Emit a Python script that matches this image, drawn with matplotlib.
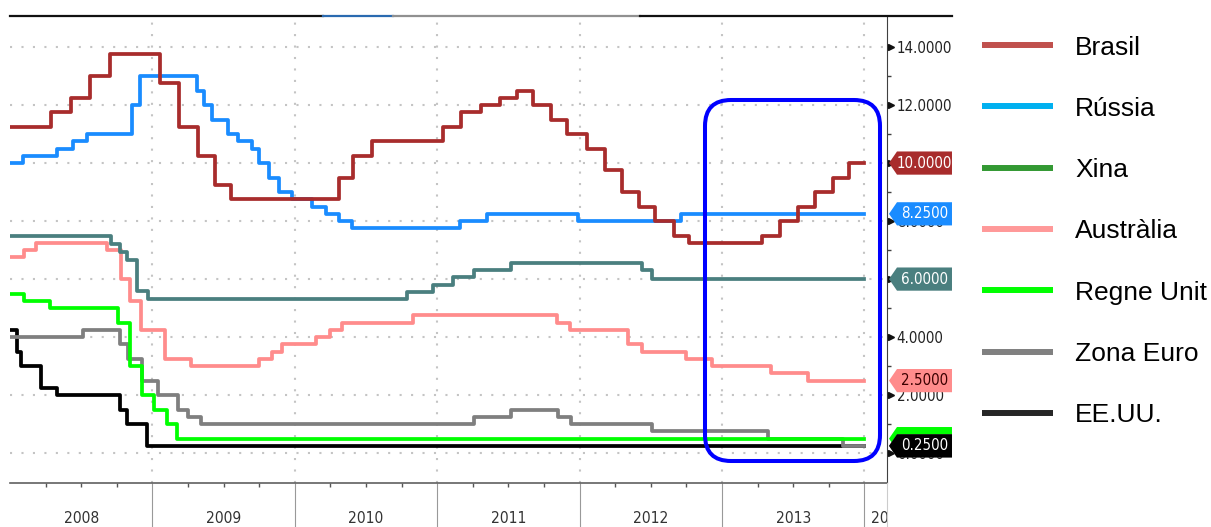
import matplotlib
matplotlib.use('Agg')
import matplotlib.pyplot as plt
from matplotlib import font_manager as fm
from matplotlib.lines import Line2D
from matplotlib.patches import Polygon, FancyBboxPatch
from matplotlib.transforms import IdentityTransform

# policy rates, stepwise: date of each change (decimal year) and the new rate (%)
names = ['Brasil', 'Rússia', 'Xina', 'Austràlia', 'Regne Unit', 'Zona Euro', 'EE.UU.']

brasil_t = [2008.0, 2008.29, 2008.43, 2008.56, 2008.70, 2009.05, 2009.19, 2009.32, 2009.44,
            2009.55, 2010.31, 2010.41, 2010.54, 2011.04, 2011.17, 2011.31, 2011.44, 2011.56,
            2011.67, 2011.80, 2011.91, 2012.05, 2012.18, 2012.30, 2012.42, 2012.53, 2012.66,
            2012.77, 2013.28, 2013.41, 2013.53, 2013.65, 2013.78, 2013.89]
brasil_v = [11.25, 11.75, 12.25, 13.0, 13.75, 12.75, 11.25, 10.25, 9.25,
            8.75, 9.5, 10.25, 10.75, 11.25, 11.75, 12.0, 12.25, 12.5,
            12.0, 11.5, 11.0, 10.5, 9.75, 9.0, 8.5, 8.0, 7.5,
            7.25, 7.5, 8.0, 8.5, 9.0, 9.5, 10.0]

russia_t = [2008.0, 2008.09, 2008.33, 2008.44, 2008.54, 2008.86, 2008.91, 2009.31, 2009.36,
            2009.42, 2009.53, 2009.60, 2009.70, 2009.75, 2009.82, 2009.89, 2009.98, 2010.12,
            2010.22, 2010.31, 2010.40, 2011.16, 2011.35, 2011.99, 2012.71]
russia_v = [10.0, 10.25, 10.5, 10.75, 11.0, 12.0, 13.0, 12.5, 12.0,
            11.5, 11.0, 10.75, 10.5, 10.0, 9.5, 9.0, 8.75, 8.5,
            8.25, 8.0, 7.75, 8.0, 8.25, 8.0, 8.25]

xina_t = [2008.0, 2008.71, 2008.77, 2008.82, 2008.89, 2008.97, 2010.79, 2010.97, 2011.11,
          2011.26, 2011.52, 2012.44, 2012.51]
xina_v = [7.47, 7.2, 6.93, 6.66, 5.58, 5.31, 5.56, 5.81, 6.06, 6.31, 6.56, 6.31, 6.0]

australia_t = [2008.0, 2008.10, 2008.18, 2008.68, 2008.78, 2008.84, 2008.92, 2009.09, 2009.27,
               2009.75, 2009.84, 2009.91, 2010.15, 2010.25, 2010.33, 2010.83, 2011.84, 2011.93,
               2012.34, 2012.44, 2012.75, 2012.93, 2013.34, 2013.60]
australia_v = [6.75, 7.0, 7.25, 7.0, 6.0, 5.25, 4.25, 3.25, 3.0,
               3.25, 3.5, 3.75, 4.0, 4.25, 4.5, 4.75, 4.5, 4.25,
               3.75, 3.5, 3.25, 3.0, 2.75, 2.5]

uk_t = [2008.0, 2008.10, 2008.28, 2008.76, 2008.84, 2008.93, 2009.01, 2009.10, 2009.17]
uk_v = [5.5, 5.25, 5.0, 4.5, 3.0, 2.0, 1.5, 1.0, 0.5]

euro_t = [2008.0, 2008.51, 2008.77, 2008.83, 2008.93, 2009.04, 2009.18, 2009.25, 2009.34,
          2011.26, 2011.52, 2011.85, 2011.94, 2012.51, 2013.32, 2013.85]
euro_v = [4.0, 4.25, 3.75, 3.25, 2.5, 2.0, 1.5, 1.25, 1.0,
          1.25, 1.5, 1.25, 1.0, 0.75, 0.5, 0.25]

us_t = [2008.0, 2008.05, 2008.08, 2008.22, 2008.33, 2008.77, 2008.82, 2008.96]
us_v = [4.25, 3.5, 3.0, 2.25, 2.0, 1.5, 1.0, 0.25]

END = 2014.0
years = [2008, 2009, 2010, 2011, 2012, 2013]
# axis labels fully covered by the value tags in the original
hidden_ticks = [6, 10]

line_colors = ['#a82c2c', '#1a8cff', '#4a7f7f', '#ff8c8c', '#00ff00', '#7f7f7f', '#000000']
tag_text_colors = ['white', 'white', 'white', '#3a0000', '#003300', 'white', 'white']
legend_colors = ['#c0504d', '#00b0f0', '#339933', '#ff9999', '#00ff00', '#808080', '#262626']

times = [brasil_t, russia_t, xina_t, australia_t, uk_t, euro_t, us_t]
values = [brasil_v, russia_v, xina_v, australia_v, uk_v, euro_v, us_v]

# narrow face for the terminal-style labels: a condensed file if one is installed,
# otherwise Liberation Sans (narrower digits than DejaVu)
narrow_file = None
for f in fm.fontManager.ttflist:
    fn = f.fname.lower()
    if ('condensed' in fn or 'narrow' in fn) and 'bold' not in fn and 'italic' not in fn \
            and 'oblique' not in fn and f.weight in (400, 'normal', 'regular'):
        narrow_file = f.fname
        break
nsize = 10.8 if narrow_file else 10.5


def nprops(size):
    if narrow_file:
        return fm.FontProperties(fname=narrow_file, size=size)
    return fm.FontProperties(family='Liberation Sans', size=size)


W, H = 1211, 527

fig = plt.figure(figsize=(W / 100, H / 100), dpi=100)
ax = fig.add_axes([10 / W, 1 - 483 / H, 877 / W, 467 / H])
ax.set_xlim(2008.0, 2014.158)
ax.set_ylim(-1.03, 15.07)

# series, last in legend drawn first
for i in reversed(range(len(names))):
    t = times[i] + [END]
    v = values[i] + [values[i][-1]]
    ax.step(t, v, where='post', color=line_colors[i], lw=2.7, zorder=3)

# dotted grid
for y in range(0, 15, 2):
    ax.axhline(y, color='#c4c4c4', lw=1.5, ls=(0, (1, 4.5)), zorder=1)
for x in years[1:] + [END]:
    ax.axvline(x, color='#c4c4c4', lw=1.5, ls=(0, (1, 4.5)), zorder=1)

for s in ['top', 'left']:
    ax.spines[s].set_visible(False)
ax.spines['right'].set_color('#404040')
ax.spines['bottom'].set_color('#606060')
ax.spines['bottom'].set_linewidth(1.2)

# right axis
ax.yaxis.tick_right()
ax.set_yticks(range(0, 15, 2))
ax.set_yticklabels(['' if v in hidden_ticks else '%.4f' % v for v in range(0, 15, 2)], color='#222222')
for lab in ax.get_yticklabels():
    lab.set_fontproperties(nprops(nsize))
ax.set_yticks(range(1, 15, 2), minor=True)
ax.tick_params(axis='y', which='major', length=0, pad=7)
ax.tick_params(axis='y', which='minor', length=3, width=1, color='#404040')
ytr = ax.get_yaxis_transform()
ax.plot([1.0046] * 8, list(range(0, 15, 2)), ls='none', marker='>', ms=4.5, color='#111111',
        transform=ytr, clip_on=False, zorder=4)

# bottom axis: year separators, quarter ticks, year labels
ax.set_xticks(years[1:] + [END])
ax.set_xticks([y + q / 4 for y in years + [END] for q in (1, 2, 3) if y + q / 4 < 2014.15], minor=True)
ax.tick_params(axis='x', which='major', length=32, width=0.8, color='#999999', labelbottom=False)
ax.tick_params(axis='x', which='minor', length=3, width=1, color='#555555')
xtr = ax.get_xaxis_transform()
for y in years:
    ax.text(y + 0.5, -0.077, str(y), transform=xtr, ha='center', va='center',
            fontproperties=nprops(nsize + 0.4), color='#333333', clip_on=False)
ax.text(END + 0.11, -0.077, '20', transform=xtr, ha='center', va='center',
        fontproperties=nprops(nsize + 0.4), color='#333333', clip_on=False)

# value tags on the right axis
x_tip, x0, x1 = 1.0023, 1.0114, 1.0741
hh = 0.40
for i in range(len(names)):
    v = values[i][-1]
    poly = Polygon([(x_tip, v), (x0, v + hh), (x1, v + hh), (x1, v - hh), (x0, v - hh)],
                   closed=True, transform=ytr, facecolor=line_colors[i], edgecolor='none',
                   clip_on=False, zorder=5 + i * 0.1)
    ax.add_patch(poly)
    if names[i] not in ('Regne Unit', 'Zona Euro'):  # hidden under the EE.UU. tag in the original
        ax.text((x0 + x1) / 2, v, '%.4f' % v, transform=ytr, ha='center', va='center',
                fontproperties=nprops(nsize), color=tag_text_colors[i], clip_on=False,
                zorder=5.05 + i * 0.1)

# stray header rule at the top
top = 1 - 16 / H
for xa, xb, c in [(10, 323, '#111111'), (323, 393, '#2a6ab0'), (393, 640, '#909090'), (640, 952, '#111111')]:
    fig.add_artist(Line2D([xa / W, xb / W], [top, top], color=c, lw=1.6))
fig.add_artist(Line2D([887 / W, 887 / W], [0, 1 - 483 / H], color='#cccccc', lw=0.8))

# highlight box
box = FancyBboxPatch((705, 66), 175, 361, boxstyle='round,pad=0,rounding_size=26',
                     transform=IdentityTransform(), facecolor='none', edgecolor='#0000ff', lw=2.9)
fig.add_artist(box)

# legend
for i, name in enumerate(names):
    yl = 1 - (45 + 61.3 * i) / H
    fig.add_artist(Line2D([982 / W, 1053 / W], [yl, yl], color=legend_colors[i], lw=4.3,
                          solid_capstyle='butt'))
    fig.text(1075 / W, yl - 9.5 / H, name, fontsize=19, family=['Liberation Sans', 'DejaVu Sans'],
             color='black', va='baseline', ha='left')

fig.savefig('out.png', dpi=100)
